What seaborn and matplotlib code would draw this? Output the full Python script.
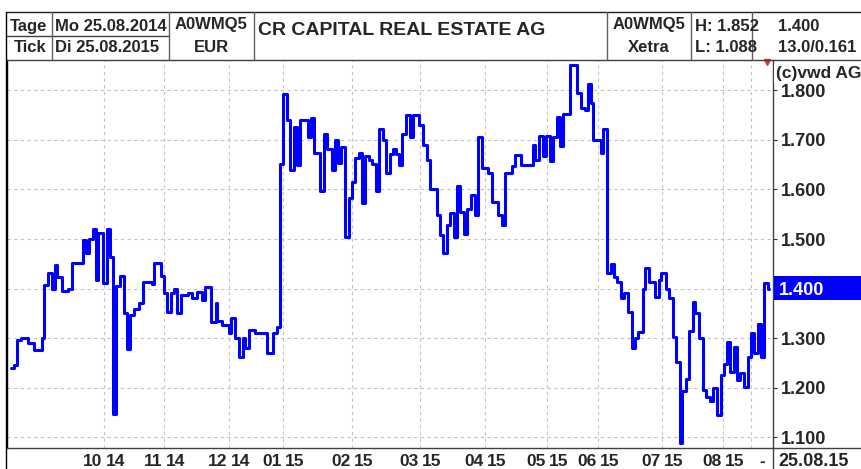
import matplotlib
matplotlib.use("Agg")
import matplotlib.pyplot as plt
import pandas as pd
import seaborn as sns
from matplotlib.lines import Line2D
from matplotlib.patches import Rectangle

# tick chart: session index where a price level starts, and the level (EUR)
session = [0, 1, 2, 3.3, 5.7, 7.7, 10.3, 11, 12.3, 13.7, 14.7, 15.3, 17, 19, 20.3,
           24, 25, 26, 27.3, 28.3, 29, 30.7, 32, 33, 34, 35, 36.3, 37.7, 38.7, 39.7,
           41, 42.7, 44, 47, 47.7, 50, 51, 52, 53.3, 54.3, 55.3, 56.7, 59, 60.3,
           62, 63.7, 64.7, 66.7, 68.3, 68.7, 70.3, 72.7, 73.3, 74.7, 76, 77.3, 78,
           79.3, 81.3, 85.3, 87.3, 88.7, 89.7, 90.7, 92, 93, 94.3, 95.3, 96.3, 99,
           100, 101, 103, 104.3, 105.3, 107, 108, 109, 110, 111.3, 112.7, 113.7,
           114.7, 116, 117, 118, 119.3, 120.3, 121.7, 122.7, 124, 125, 126.3, 127.3,
           128.3, 129.3, 130.3, 131.7, 133, 134, 136, 137.3, 138.7, 139.7, 142, 143,
           144, 145.3, 146.3, 147.7, 148.7, 149.7, 151, 152, 153.3, 154.7, 155.7,
           157, 159, 160.3, 162.3, 163.7, 164.7, 167, 168, 170, 174, 174.7, 176,
           177.3, 178.3, 179.7, 180.7, 182, 183, 184, 186.3, 188.7, 190, 191.3,
           192.3, 193.3, 194, 196.7, 197.3, 198.7, 200, 201, 202, 203.3, 204.3,
           205.7, 207, 208, 209, 210.7, 211.3, 212.7, 214.7, 216, 216.7, 218.3,
           219.3, 220.7, 221.7, 223, 223.7, 225, 226, 227.3, 228, 229.3, 230.7,
           231.7, 233, 234, 235.3, 236.7, 237.7, 238.7, 239.7, 241, 242, 243, 244.3,
           245.7, 246.7, 247.7, 249, 250, 251, 252.3, 252.7]
price = [1.239, 1.245, 1.296, 1.300, 1.290, 1.275, 1.300, 1.407, 1.432, 1.398, 1.447,
         1.424, 1.395, 1.400, 1.452, 1.498, 1.472, 1.500, 1.520, 1.417, 1.513, 1.412,
         1.520, 1.464, 1.146, 1.405, 1.425, 1.350, 1.277, 1.347, 1.359, 1.371, 1.414,
         1.410, 1.451, 1.425, 1.390, 1.353, 1.390, 1.400, 1.350, 1.387, 1.390, 1.380,
         1.393, 1.376, 1.403, 1.333, 1.370, 1.335, 1.326, 1.310, 1.340, 1.300, 1.262,
         1.300, 1.280, 1.316, 1.310, 1.270, 1.310, 1.323, 1.652, 1.793, 1.740, 1.639,
         1.727, 1.650, 1.740, 1.707, 1.744, 1.673, 1.596, 1.713, 1.682, 1.639, 1.700,
         1.653, 1.685, 1.505, 1.582, 1.616, 1.663, 1.673, 1.572, 1.667, 1.660, 1.652,
         1.596, 1.722, 1.700, 1.634, 1.671, 1.681, 1.671, 1.650, 1.712, 1.750, 1.707,
         1.750, 1.730, 1.690, 1.660, 1.602, 1.548, 1.508, 1.471, 1.528, 1.552, 1.505,
         1.607, 1.555, 1.511, 1.560, 1.589, 1.548, 1.707, 1.643, 1.633, 1.575, 1.548,
         1.528, 1.634, 1.647, 1.670, 1.650, 1.690, 1.660, 1.708, 1.667, 1.708, 1.657,
         1.707, 1.746, 1.688, 1.752, 1.852, 1.794, 1.764, 1.760, 1.813, 1.775, 1.700,
         1.674, 1.722, 1.431, 1.450, 1.424, 1.414, 1.380, 1.390, 1.353, 1.279, 1.300,
         1.313, 1.400, 1.441, 1.414, 1.382, 1.418, 1.431, 1.400, 1.380, 1.303, 1.252,
         1.087, 1.192, 1.217, 1.315, 1.373, 1.350, 1.300, 1.195, 1.180, 1.172, 1.199,
         1.144, 1.225, 1.247, 1.291, 1.232, 1.282, 1.215, 1.230, 1.202, 1.262, 1.311,
         1.270, 1.328, 1.262, 1.412, 1.400, 1.400]

# month starts on the tick axis
month_pos = [31, 51, 72.7, 90.7, 113.7, 136.3, 158, 178.7, 195.7, 217, 237.3]
month_num = ["10", "11", "12", "01", "02", "03", "04", "05", "06", "07", "08"]
month_year = ["14", "14", "14", "15", "15", "15", "15", "15", "15", "15", "15"]
last_block = 246.7
y_ticks = [1.1, 1.2, 1.3, 1.4, 1.5, 1.6, 1.7, 1.8]
last_price = 1.400

W, H = 861, 469


def fx(x):
    return x / W


def fy(y):
    return 1 - y / H


sns.set_style("white")
plt.rcParams["font.family"] = ["Liberation Sans", "DejaVu Sans"]
plt.rcParams["font.weight"] = "bold"

df = pd.DataFrame({"session": session, "price": price})

fig = plt.figure(figsize=(W / 100, H / 100), dpi=100)
ax = fig.add_axes([fx(7), fy(448), fx(773) - fx(7), fy(60) - fy(448)])

sns.lineplot(data=df, x="session", y="price", drawstyle="steps-post",
             color="#0000ff", linewidth=2.2, estimator=None, sort=False, ax=ax)

ax.set_xlim(-1.33, 254)
ax.set_ylim(1.0778, 1.8616)
ax.set_xlabel("")
ax.set_ylabel("")

ax.yaxis.tick_right()
ax.set_yticks(y_ticks)
# the last-price level gets its own highlighted label below
ax.set_yticklabels(["" if abs(v - last_price) < 1e-9 else f"{v:.3f}" for v in y_ticks],
                   fontsize=13, fontweight="bold")
ax.tick_params(axis="y", length=3, width=0.8, color="#333333", pad=3)

ax.set_xticks(month_pos + [last_block])
ax.set_xticklabels([])
ax.tick_params(axis="x", length=15.2, width=0.8, color="#505050", direction="out")

ax.grid(True, color="#c4c4c4", linestyle=(0, (3, 3)), linewidth=0.8)
for s in ax.spines.values():
    s.set_color("#404040")
    s.set_linewidth(1.0)
ax.spines["left"].set_color("black")

# month labels "MM|YY" split around each month line
xt = ax.get_xaxis_transform()
ylab = -18 / 388
for pos, m, yy in zip(month_pos, month_num, month_year):
    ax.annotate(m, xy=(pos, ylab), xycoords=xt, xytext=(-1.2, 0),
                textcoords="offset points", ha="right", va="baseline",
                fontsize=12.5, fontweight="bold", annotation_clip=False)
    ax.annotate(yy, xy=(pos, ylab), xycoords=xt, xytext=(1.2, 0),
                textcoords="offset points", ha="left", va="baseline",
                fontsize=12.5, fontweight="bold", annotation_clip=False)
fig.text(fx(762), fy(466), "-", ha="center", va="baseline", fontsize=12.5, fontweight="bold")
fig.text(fx(778), fy(466), "25.08.15", ha="left", va="baseline", fontsize=13, fontweight="bold")

# red marker at the upper right corner
ax.plot([1 - 6 / 766], [1 - 2 / 388], marker="v", color="#e03030", markersize=4,
        transform=ax.transAxes, clip_on=False)


# header frame
def hline(y, x0, x1, c="#404040"):
    fig.add_artist(Line2D([fx(x0), fx(x1)], [fy(y), fy(y)], color=c, lw=1.0))


def vline(x, y0, y1, c="#606060"):
    fig.add_artist(Line2D([fx(x), fx(x)], [fy(y0), fy(y1)], color=c, lw=1.0))


hline(12, 6, 861, "#202020")
hline(36, 6, 169)
hline(60, 773, 861)
hline(448, 773, 861)
vline(6, 12, 469, "black")
for x in [52, 169, 254, 607, 691, 752]:
    vline(x, 12, 60)
vline(773, 448, 469, "#404040")

fs = 12
fig.text(fx(29), fy(30.7), "Tage", ha="center", va="baseline", fontsize=fs)
fig.text(fx(30), fy(51.7), "Tick", ha="center", va="baseline", fontsize=fs)
fig.text(fx(55), fy(30.7), "Mo 25.08.2014", ha="left", va="baseline", fontsize=fs)
fig.text(fx(55), fy(51.7), "Di 25.08.2015", ha="left", va="baseline", fontsize=fs)
fig.text(fx(211.5), fy(29.5), "A0WMQ5", ha="center", va="baseline", fontsize=fs,
         bbox=dict(facecolor="white", edgecolor="none", pad=0.5))
fig.text(fx(211.5), fy(51.7), "EUR", ha="center", va="baseline", fontsize=fs)
fig.text(fx(258), fy(35), "CR CAPITAL REAL ESTATE AG", ha="left", va="baseline", fontsize=14)
fig.text(fx(649), fy(29.5), "A0WMQ5", ha="center", va="baseline", fontsize=fs)
fig.text(fx(649), fy(51.7), "Xetra", ha="center", va="baseline", fontsize=fs)
fig.text(fx(695), fy(30.7), "H: 1.852", ha="left", va="baseline", fontsize=fs)
fig.text(fx(695), fy(51.7), "L: 1.088", ha="left", va="baseline", fontsize=fs)
fig.text(fx(778), fy(30.7), "1.400", ha="left", va="baseline", fontsize=fs)
fig.text(fx(778), fy(51.7), "13.0/0.161", ha="left", va="baseline", fontsize=fs)

# source note above the price scale
fig.text(fx(776), fy(78), "(c)vwd AG", ha="left", va="baseline", fontsize=12.5,
         bbox=dict(facecolor="white", edgecolor="none", pad=1.5))

# highlighted last price on the price scale
fig.add_artist(Rectangle((fx(774), fy(300)), fx(861) - fx(774), fy(276) - fy(300),
                         transform=fig.transFigure, facecolor="#0000ff",
                         edgecolor="none", zorder=4))
ytxt = fig.transFigure.inverted().transform(ax.transData.transform((0, last_price)))[1]
fig.text(fx(779), ytxt, f"{last_price:.3f}", ha="left", va="center_baseline",
         color="white", fontsize=13, fontweight="bold", zorder=6)

fig.savefig("out.png", dpi=100)
